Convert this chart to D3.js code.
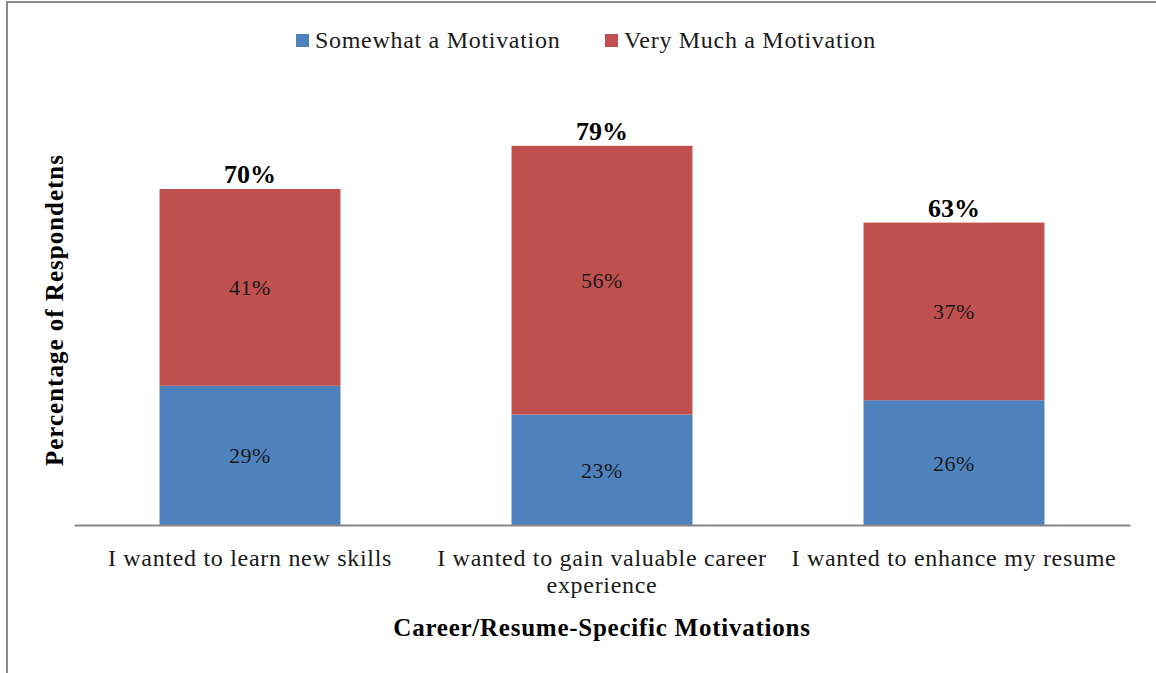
<!DOCTYPE html>
<html>
<head>
<meta charset="utf-8">
<script src="https://cdn.jsdelivr.net/npm/d3@7.9.0/dist/d3.min.js"></script>
<style>
  body { margin: 0; background: #fff; }
  svg { display: block; font-family: "Liberation Serif", "DejaVu Serif", serif; }
</style>
</head>
<body>
<svg id="chart" width="1156" height="673"></svg>
<script>
// data
const categories = [
  ["I wanted to learn new skills"],
  ["I wanted to gain valuable career", "experience"],
  ["I wanted to enhance my resume"]
];
const somewhat = [29, 23, 26];
const veryMuch = [41, 56, 37];
const totals = [70, 79, 63];
const seriesNames = ["Somewhat a Motivation", "Very Much a Motivation"];
const colors = ["#4F81BD", "#C0504D"];

const svg = d3.select("#chart");

// frame
svg.append("line").attr("x1", 7).attr("x2", 1156).attr("y1", 2).attr("y2", 2)
  .attr("stroke", "#888").attr("stroke-width", 2);
svg.append("line").attr("x1", 7).attr("x2", 7).attr("y1", 1).attr("y2", 673)
  .attr("stroke", "#888").attr("stroke-width", 2);

const x = d3.scaleBand()
  .domain(d3.range(categories.length))
  .range([74, 1130])
  .paddingInner(0.486)
  .paddingOuter(0.243);

const y = d3.scaleLinear().domain([0, 100]).range([525, 45]);

const rows = categories.map((c, i) => ({ i, s: somewhat[i], v: veryMuch[i], t: totals[i] }));

// stacked bars
const stack = d3.stack().keys(["s", "v"])(rows);
stack.forEach((layer, k) => {
  svg.append("g").selectAll("rect")
    .data(layer).enter().append("rect")
    .attr("x", d => x(d.data.i))
    .attr("width", x.bandwidth())
    .attr("y", d => y(d[1]))
    .attr("height", d => y(d[0]) - y(d[1]))
    .attr("fill", colors[k]);

  svg.append("g").selectAll("text")
    .data(layer).enter().append("text")
    .attr("x", d => x(d.data.i) + x.bandwidth() / 2)
    .attr("y", d => (y(d[0]) + y(d[1])) / 2 + 8)
    .attr("text-anchor", "middle")
    .attr("font-size", 22)
    .attr("letter-spacing", 0.5)
    .attr("fill", "#1a1a1a")
    .text(d => (d[1] - d[0]) + "%");
});

// totals
svg.append("g").selectAll("text")
  .data(rows).enter().append("text")
  .attr("x", d => x(d.i) + x.bandwidth() / 2)
  .attr("y", d => y(d.t) - 6)
  .attr("text-anchor", "middle")
  .attr("font-size", 26)
  .attr("font-weight", "bold")
  .attr("fill", "#000")
  .text(d => d.t + "%");

// x axis
const xAxis = svg.append("g")
  .attr("transform", "translate(0,525)")
  .call(d3.axisBottom(x).tickSize(0).tickFormat(""));
xAxis.select(".domain").attr("stroke", "#888").attr("stroke-width", 2);

svg.append("g").selectAll("text")
  .data(categories).enter().append("text")
  .attr("x", (d, i) => x(i) + x.bandwidth() / 2)
  .attr("y", 566)
  .attr("text-anchor", "middle")
  .attr("font-size", 24)
  .attr("letter-spacing", 0.7)
  .attr("fill", "#1a1a1a")
  .each(function(d) {
    d3.select(this).selectAll("tspan").data(d).enter().append("tspan")
      .attr("x", d3.select(this).attr("x"))
      .attr("dy", (t, j) => j === 0 ? 0 : 27)
      .text(t => t);
  });

// axis titles
svg.append("text")
  .attr("x", 602).attr("y", 636)
  .attr("text-anchor", "middle")
  .attr("font-size", 25).attr("font-weight", "bold")
  .attr("letter-spacing", 0.75)
  .text("Career/Resume-Specific Motivations");

svg.append("text")
  .attr("transform", "translate(63,310) rotate(-90)")
  .attr("text-anchor", "middle")
  .attr("font-size", 25).attr("font-weight", "bold")
  .attr("letter-spacing", 1)
  .text("Percentage of Respondetns");

// legend
const legendX = [296, 605];
const legend = svg.append("g").selectAll("g")
  .data(seriesNames).enter().append("g")
  .attr("transform", (d, i) => `translate(${legendX[i]},34)`);
legend.append("rect").attr("width", 13).attr("height", 13)
  .attr("fill", (d, i) => colors[i]);
legend.append("text").attr("x", 19).attr("y", 14)
  .attr("font-size", 24).attr("letter-spacing", 0.7)
  .attr("fill", "#1a1a1a")
  .text(d => d);
</script>
</body>
</html>
